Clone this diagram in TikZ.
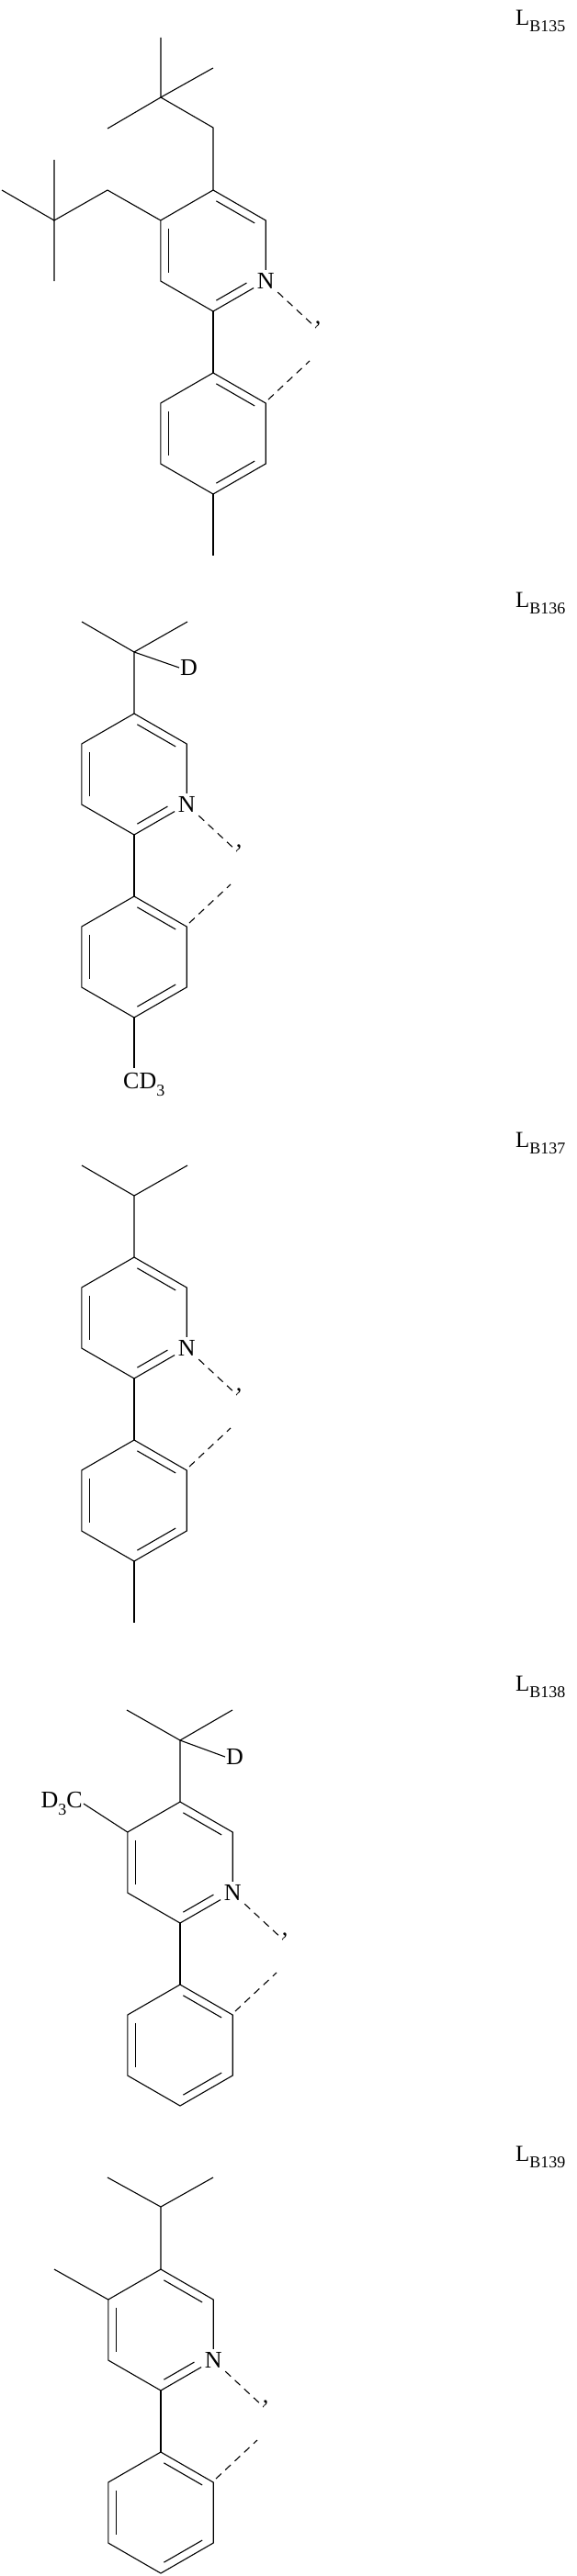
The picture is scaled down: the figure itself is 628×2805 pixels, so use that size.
\documentclass[tikz,border=0pt]{standalone}
\usepackage{fontspec}
\setmainfont{Liberation Serif}
\usetikzlibrary{calc}
\newcommand\sub[1]{\raisebox{-0.28em}{\fontsize{18}{18}\selectfont #1}}
\tikzset{
  bond/.style={line width=1.1pt},
  atom/.style={font=\fontsize{26}{26}\selectfont, inner sep=1pt},
  natom/.style={font=\fontsize{26}{26}\selectfont, inner sep=3.5pt},
  lbl/.style={font=\fontsize{25}{25}\selectfont, inner sep=0pt, anchor=west},
  dsh/.style={line width=1.1pt, dash pattern=on 8pt off 6pt}
}
% inner double-bond line between vertices #2 and #3 of ring with centre #1
\newcommand\dbl[3]{\draw[bond] ($ ($(#2)!0.15!(#1)$)!0.07!($(#3)!0.15!(#1)$) $) -- ($ ($(#3)!0.15!(#1)$)!0.07!($(#2)!0.15!(#1)$) $);}
\newcommand\pyph[3]{%
\begin{scope}[shift={(#2,#3)}]
\coordinate (#1c) at (0,66);
\coordinate (#1p1) at (0,0);
\coordinate (#1p2) at (57.2,33);
\node[natom] (#1N) at (57.2,99) {N};
\coordinate (#1n) at (57.2,99);
\coordinate (#1p4) at (0,132);
\coordinate (#1p5) at (-57.2,99);
\coordinate (#1p6) at (-57.2,33);
\coordinate (#1d) at (0,265);
\coordinate (#1q1) at (0,199);
\coordinate (#1q2) at (57.2,232);
\coordinate (#1q3) at (57.2,298);
\coordinate (#1q4) at (0,331);
\coordinate (#1q5) at (-57.2,298);
\coordinate (#1q6) at (-57.2,232);
\coordinate (#1e1) at (112,150);
\coordinate (#1e2) at (105,186);
\coordinate (#1s) at (60,228);
\node[atom] (#1comma) at (114,146) {,};
\end{scope}
\draw[bond] (#1N) -- (#1p2) -- (#1p1) -- (#1p6) -- (#1p5) -- (#1p4) -- (#1N);
\dbl{#1c}{#1p1}{#1p2}
\dbl{#1c}{#1p6}{#1p5}
\draw[bond] ($ ($(#1p4)!0.15!(#1c)$)!0.07!($(#1n)!0.15!(#1c)$) $) -- ($ ($(#1n)!0.15!(#1c)$)!0.25!($(#1p4)!0.15!(#1c)$) $);
\draw[bond] (#1p4) -- (#1q1);
\draw[bond] (#1q1) -- (#1q2) -- (#1q3) -- (#1q4) -- (#1q5) -- (#1q6) -- cycle;
\dbl{#1d}{#1q1}{#1q2}
\dbl{#1d}{#1q6}{#1q5}
\dbl{#1d}{#1q3}{#1q4}
\draw[dsh] (#1N) -- (#1e1);
\draw[dsh] (#1s) -- (#1e2);
}
\begin{document}
\begin{tikzpicture}[x=1pt,y=-1pt]
\useasboundingbox (0,0) rectangle (628,2805);
% ---- LB135
\pyph{a}{232}{207}
\coordinate (a1) at (232,139);
\coordinate (a2) at (175,106);
\coordinate (a3) at (175,41);
\coordinate (a4) at (232,74);
\coordinate (a5) at (117,140);
\draw[bond] (ap1) -- (a1) -- (a2) -- (a3);
\draw[bond] (a4) -- (a2) -- (a5);
\coordinate (a6) at (117,207);
\coordinate (a7) at (59,240);
\coordinate (a8) at (59,174);
\coordinate (a9) at (59,306);
\coordinate (a10) at (2,207);
\draw[bond] (ap6) -- (a6) -- (a7) -- (a8);
\draw[bond] (a10) -- (a7) -- (a9);
\coordinate (am) at (232,605);
\draw[bond] (aq4) -- (am);
\node[lbl] (la) at (561,23) {L\sub{B135}};
% ---- LB136
\pyph{b}{146}{777}
\coordinate (b1) at (146,710);
\coordinate (b2) at (89,677);
\coordinate (b3) at (204,677);
\draw[bond] (bp1) -- (b1) -- (b2);
\draw[bond] (b1) -- (b3);
\node[atom, anchor=west] (bD) at (195,727) {D};
\draw[bond] (b1) -- (bD.west);
\node[atom, anchor=west] (bCD) at (133,1181) {CD\sub{3}};
\coordinate (bm) at (146,1163);
\draw[bond] (bq4) -- (bm);
\node[lbl] (lb) at (561,657) {L\sub{B136}};
% ---- LB137
\pyph{c}{146}{1369}
\coordinate (c1) at (146,1302);
\coordinate (c2) at (89,1269);
\coordinate (c3) at (204,1269);
\draw[bond] (cp1) -- (c1) -- (c2);
\draw[bond] (c1) -- (c3);
\coordinate (cm) at (146,1767);
\draw[bond] (cq4) -- (cm);
\node[lbl] (lc) at (561,1245) {L\sub{B137}};
% ---- LB138
\pyph{d}{196}{1962}
\coordinate (d1) at (196,1895);
\coordinate (d2) at (138,1862);
\coordinate (d3) at (253,1862);
\draw[bond] (dp1) -- (d1) -- (d2);
\draw[bond] (d1) -- (d3);
\node[atom, anchor=west] (dD) at (245,1913) {D};
\draw[bond] (d1) -- (dD.west);
\node[atom, anchor=east] (dCD) at (91,1964) {D\sub{3}C};
\draw[bond] (dp6) -- (dCD.east);
\node[lbl] (ld) at (561,1837) {L\sub{B138}};
% ---- LB139
\pyph{e}{175}{2471}
\coordinate (e1x) at (175,2403);
\coordinate (e2x) at (117,2371);
\coordinate (e3x) at (232,2371);
\draw[bond] (ep1) -- (e1x) -- (e2x);
\draw[bond] (e1x) -- (e3x);
\coordinate (em) at (59,2471);
\draw[bond] (ep6) -- (em);
\node[lbl] (le) at (561,2349) {L\sub{B139}};
\end{tikzpicture}
\end{document}
